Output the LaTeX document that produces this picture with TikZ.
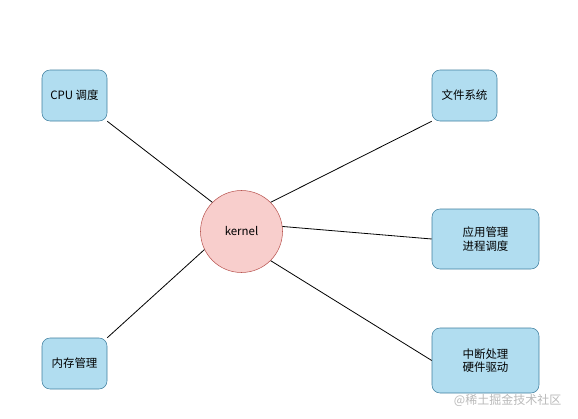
\documentclass[tikz,border=0pt]{standalone}
\usepackage{fontspec}
\setmainfont{Liberation Sans}
\newfontfamily\cjk{Noto Sans CJK SC}
\usetikzlibrary{positioning}
\definecolor{boxfill}{HTML}{B1DDF0}
\definecolor{boxline}{HTML}{3F7F9F}
\definecolor{kfill}{HTML}{F8CECC}
\definecolor{kline}{HTML}{B85450}

\begin{document}
\begin{tikzpicture}[
  x=0.75pt, y=-0.75pt,
  every node/.style={font=\cjk\fontsize{8.6}{10}\selectfont, align=center},
  box/.style={draw=boxline, fill=boxfill, rounded corners=6pt, inner sep=0pt,
              minimum width=48.75pt, minimum height=38.25pt},
  widebox/.style={box, minimum width=80.25pt},
  link/.style={draw, line width=0.6pt},
]
\useasboundingbox (0,0) rectangle (578,418);

\node[circle, draw=kline, fill=kfill, minimum size=61.5pt] (kernel) at (241.5,231.5) {kernel};

\node[box] (cpu) at (74.5,95.5) {CPU 调度};
\node[box] (fs) at (464.5,95.5) {文件系统};
\node[box] (mem) at (74.5,363.5) {内存管理};
\node[widebox, minimum height=45pt] (app) at (485.5,239) {应用管理\\进程调度};
\node[widebox, minimum height=48.75pt] (irq) at (485.5,360.5) {中断处理\\硬件驱动};

% connectors
\path[link] (kernel.135) -- (cpu.south east);
\path[link] (kernel.45) -- (fs.south west);
\path[link] (kernel.7) -- (app.west);
\path[link] (kernel.206) -- (mem.north east);
\path[link] (kernel.315) -- (irq.west);

\node[anchor=east, text=gray!55, font=\cjk\fontsize{9}{10}\selectfont] (mark) at (566,400) {@稀土掘金技术社区};
\end{tikzpicture}
\end{document}
